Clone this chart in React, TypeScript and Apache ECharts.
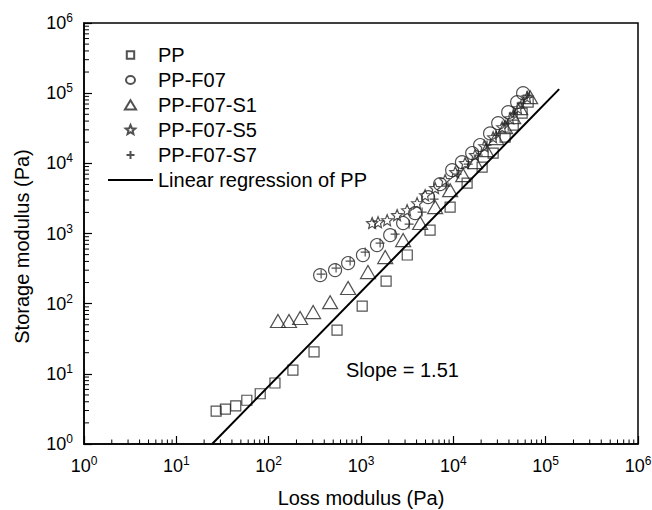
import React, { useEffect, useRef } from 'react';
import * as echarts from 'echarts';

const FONT = "'Liberation Sans', Arial, Helvetica, sans-serif";

// Series: Loss modulus (x, Pa) vs Storage modulus (y, Pa)
const ppX = [27, 34, 44, 58, 81, 117, 183, 310, 550, 1030, 1870, 3170, 5600, 9230, 14100, 20500, 27000, 36400, 44500, 55600, 64600];
const ppY = [2.95, 3.15, 3.5, 4.2, 5.2, 7.4, 11.3, 20.5, 42, 92, 210, 494, 1120, 2380, 5220, 8830, 14000, 23600, 35000, 51900, 74400];

const f07X = [361, 524, 725, 1050, 1490, 2070, 2860, 3860, 5330, 7190, 9710, 12400, 16000, 19500, 25000, 30600, 39300, 49100, 57000];
const f07Y = [255, 301, 379, 493, 684, 949, 1410, 1950, 3300, 5060, 8000, 10400, 14000, 18200, 26700, 37400, 53600, 74400, 100000];

const s1X = [126, 166, 219, 303, 463, 725, 1190, 1830, 2860, 4370, 6350, 9230, 12800, 17200, 22700, 29100, 36400, 44500, 53000, 67900];
const s1Y = [56.5, 56.5, 62.4, 75.9, 105, 167, 282, 461, 805, 1410, 2380, 4150, 6790, 10400, 15400, 22900, 32800, 45500, 61100, 87700];

const s5X = [1320, 1530, 1920, 2460, 3160, 4050, 4950, 6350, 8150, 10500, 13400, 17200, 21600, 27000, 33800, 41200, 50300, 63000];
const s5Y = [1410, 1450, 1550, 1830, 2150, 2710, 3520, 4440, 5770, 7500, 10100, 13100, 17600, 23600, 32800, 44000, 61100, 87700];

const s7X = [370, 537, 762, 1110, 1610, 2340, 3320, 4590, 6190, 8360, 11000, 14500, 18600, 23200, 29100, 36400, 44500, 54200, 63000];
const s7Y = [264, 322, 404, 543, 730, 980, 1360, 2020, 3090, 4730, 7020, 9740, 13100, 18200, 25200, 36200, 51900, 72100, 93700];

// Linear regression of PP (end points)
const regX = [24.4, 140000];
const regY = [1, 114000];

const SERIES_NAMES = ['PP', 'PP-F07', 'PP-F07-S1', 'PP-F07-S5', 'PP-F07-S7', 'Linear regression of PP'];

// axis decoration: decades and minor multipliers for log minor ticks
const DECADES = [1, 10, 100, 1000, 10000, 100000];
const MINOR_MULT = [2, 3, 4, 5, 6, 7, 8, 9];
const AXIS_MIN = 1;
const AXIS_MAX = 1000000;

const STAR = 'path://M0,-1L0.265,-0.364L0.951,-0.309L0.428,0.139L0.588,0.809L0,0.45L-0.588,0.809L-0.428,0.139L-0.951,-0.309L-0.265,-0.364Z';
const PLUS = 'path://M-1,0L1,0M0,-1L0,1';

// legend icons: drawn in a 45 x 10 box (the two leading moveTo points fix the box)
const BOX = 'path://M-22.5,-5M22.5,5';
const ICON_SQ = BOX + 'M-3.7,-3.7L3.7,-3.7L3.7,3.7L-3.7,3.7Z';
const ICON_CIRC = BOX + 'M-4.5,0A4.5,4,0,1,1,4.5,0A4.5,4,0,1,1,-4.5,0Z';
const ICON_TRI = BOX + 'M0,-4.8L5.6,4.5L-5.6,4.5Z';
const ICON_STAR = BOX + 'M0,-5L1.32,-1.82L4.76,-1.55L2.14,0.7L2.94,4.05L0,2.25L-2.94,4.05L-2.14,0.7L-4.76,-1.55L-1.32,-1.82Z';
const ICON_PLUS = BOX + 'M-4,0L4,0M0,-4L0,4';
const ICON_LINE = BOX + 'M-22.5,-1L22.5,-1L22.5,1L-22.5,1Z';
const LEGEND_ICONS = [ICON_SQ, ICON_CIRC, ICON_TRI, ICON_STAR, ICON_PLUS, ICON_LINE];

const pair = (xs: number[], ys: number[]) => xs.map((x, i) => [x, ys[i]]);

export default function App() {
  const ref = useRef<HTMLDivElement>(null);
  useEffect(() => {
    document.body.style.margin = '0';
    if (!ref.current) return;
    const chart = echarts.init(ref.current, null, { renderer: 'svg' });
    const minorVals: number[] = [];
    DECADES.forEach((d) => MINOR_MULT.forEach((m) => minorVals.push(m * d)));

    const labelFmt = (v: number) => `{b|10}{s|${Math.round(Math.log10(v))}}`;
    const rich = {
      b: { fontSize: 18, fontFamily: FONT, color: '#000', lineHeight: 22 },
      s: { fontSize: 12, fontFamily: FONT, color: '#000', verticalAlign: 'top', lineHeight: 12 },
    };
    const axisCommon = {
      type: 'log',
      logBase: 10,
      min: AXIS_MIN,
      max: AXIS_MAX,
      splitNumber: 6,
      nameLocation: 'middle',
      axisLine: { onZero: false, lineStyle: { color: '#000', width: 1.5 } },
      axisTick: { inside: true, length: 8, lineStyle: { color: '#000', width: 1.2 } },
      axisLabel: { margin: 11, formatter: labelFmt, rich },
      splitLine: { show: false },
      minorTick: { show: false },
    };
    const hollow = (symbol: string, size: number | number[]) => ({
      type: 'scatter',
      symbol,
      symbolSize: size,
      itemStyle: { color: 'rgba(0,0,0,0)', borderColor: '#262626', borderWidth: 1.2 },
    });

    chart.setOption({
      animation: false,
      backgroundColor: '#fff',
      grid: {
        left: 84, right: 14, top: 23, bottom: 66,
        show: true, borderColor: '#000', borderWidth: 1.5, containLabel: false,
        outerBoundsMode: 'none',
      },
      xAxis: {
        ...axisCommon,
        name: 'Loss modulus (Pa)',
        nameGap: 44,
        nameTextStyle: { fontSize: 20, fontFamily: FONT, color: '#000' },
      },
      yAxis: {
        ...axisCommon,
        name: 'Storage modulus (Pa)',
        nameGap: 52,
        nameTextStyle: { fontSize: 20, fontFamily: FONT, color: '#000', padding: [0, 26, 0, 0] },
      },
      legend: {
        orient: 'vertical',
        left: 107,
        top: 45,
        padding: 0,
        itemWidth: 45,
        itemHeight: 10,
        itemGap: 5,
        selectedMode: false,
        symbolKeepAspect: true,
        textStyle: { fontSize: 20, fontFamily: FONT, color: '#000' },
        data: SERIES_NAMES.map((name, i) => ({ name, icon: LEGEND_ICONS[i] })),
      },
      graphic: [
        {
          type: 'text',
          left: 346,
          top: 360,
          style: { text: 'Slope = 1.51', fontSize: 20, fontFamily: FONT, fill: '#000' },
        },
      ],
      series: [
        { ...hollow('rect', 10), name: SERIES_NAMES[0], data: pair(ppX, ppY) },
        { ...hollow('circle', 13), name: SERIES_NAMES[1], data: pair(f07X, f07Y) },
        { ...hollow('triangle', [15, 13]), name: SERIES_NAMES[2], data: pair(s1X, s1Y) },
        { ...hollow(STAR, 11), name: SERIES_NAMES[3], data: pair(s5X, s5Y) },
        { ...hollow(PLUS, 9), name: SERIES_NAMES[4], data: pair(s7X, s7Y) },
        {
          type: 'line',
          name: SERIES_NAMES[5],
          data: pair(regX, regY),
          symbol: 'none',
          lineStyle: { color: '#000', width: 2 },
          itemStyle: { color: '#000', borderWidth: 0 },
        },
        {
          type: 'custom',
          name: 'x-minor',
          silent: true,
          data: minorVals.map((v) => [v, AXIS_MIN]),
          renderItem: (_p: any, api: any) => {
            const c = api.coord([api.value(0), AXIS_MIN]);
            return { type: 'line', shape: { x1: c[0], y1: c[1], x2: c[0], y2: c[1] - 4.5 }, style: { stroke: '#000', lineWidth: 1 } };
          },
        },
        {
          type: 'custom',
          name: 'y-minor',
          silent: true,
          data: minorVals.map((v) => [AXIS_MIN, v]),
          renderItem: (_p: any, api: any) => {
            const c = api.coord([AXIS_MIN, api.value(1)]);
            return { type: 'line', shape: { x1: c[0], y1: c[1], x2: c[0] + 5, y2: c[1] }, style: { stroke: '#000', lineWidth: 1 } };
          },
        },
      ],
    });
    return () => chart.dispose();
  }, []);
  return <div ref={ref} style={{ width: 652, height: 510 }} />;
}
